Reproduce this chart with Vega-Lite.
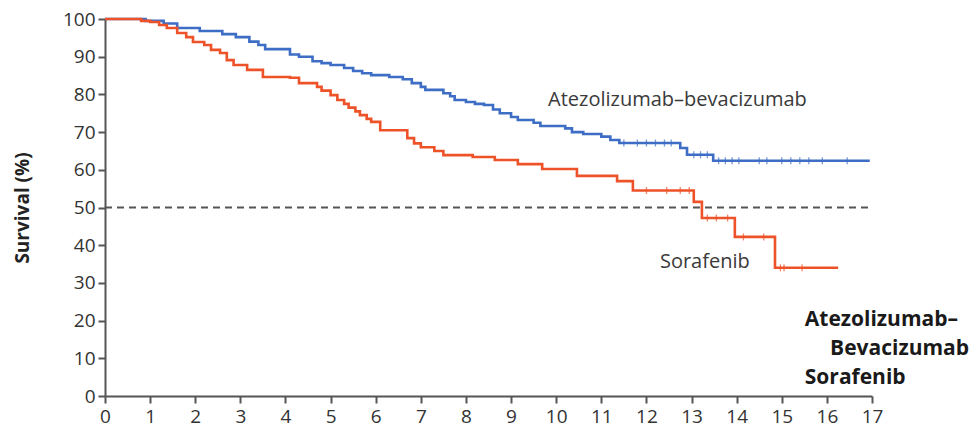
{
  "$schema": "https://vega.github.io/schema/vega-lite/v6.json",
  "width": 767,
  "height": 377,
  "autosize": {"type": "none"},
  "padding": {"left": 105, "top": 19, "right": 97, "bottom": 35},
  "background": "white",
  "config": {
    "view": {"stroke": null},
    "font": "Open Sans",
    "axis": {
      "grid": false,
      "domainColor": "#555555",
      "domainWidth": 2,
      "tickColor": "#555555",
      "tickWidth": 2,
      "tickSize": 7,
      "labelFont": "Open Sans",
      "labelFontSize": 19,
      "labelColor": "#333333",
      "labelOverlap": false,
      "titleFont": "Open Sans",
      "titleColor": "#222222"
    }
  },
  "datasets": {
    "curves": [
      {"arm": "Atezolizumab–bevacizumab", "t": 0, "s": 100},
      {"arm": "Atezolizumab–bevacizumab", "t": 0.9, "s": 99.5},
      {"arm": "Atezolizumab–bevacizumab", "t": 1.3, "s": 98.8},
      {"arm": "Atezolizumab–bevacizumab", "t": 1.6, "s": 97.6},
      {"arm": "Atezolizumab–bevacizumab", "t": 2.1, "s": 96.8},
      {"arm": "Atezolizumab–bevacizumab", "t": 2.6, "s": 96.0},
      {"arm": "Atezolizumab–bevacizumab", "t": 2.9, "s": 95.2},
      {"arm": "Atezolizumab–bevacizumab", "t": 3.2, "s": 94.0},
      {"arm": "Atezolizumab–bevacizumab", "t": 3.4, "s": 93.1},
      {"arm": "Atezolizumab–bevacizumab", "t": 3.55, "s": 92.0},
      {"arm": "Atezolizumab–bevacizumab", "t": 4.1, "s": 90.6},
      {"arm": "Atezolizumab–bevacizumab", "t": 4.3, "s": 90.0},
      {"arm": "Atezolizumab–bevacizumab", "t": 4.6, "s": 88.8},
      {"arm": "Atezolizumab–bevacizumab", "t": 4.8, "s": 88.3},
      {"arm": "Atezolizumab–bevacizumab", "t": 5.0, "s": 87.8},
      {"arm": "Atezolizumab–bevacizumab", "t": 5.3, "s": 87.0},
      {"arm": "Atezolizumab–bevacizumab", "t": 5.5, "s": 86.2},
      {"arm": "Atezolizumab–bevacizumab", "t": 5.7, "s": 85.6},
      {"arm": "Atezolizumab–bevacizumab", "t": 5.9, "s": 85.1},
      {"arm": "Atezolizumab–bevacizumab", "t": 6.3, "s": 84.6},
      {"arm": "Atezolizumab–bevacizumab", "t": 6.6, "s": 84.0},
      {"arm": "Atezolizumab–bevacizumab", "t": 6.8, "s": 83.0},
      {"arm": "Atezolizumab–bevacizumab", "t": 7.0, "s": 82.0},
      {"arm": "Atezolizumab–bevacizumab", "t": 7.1, "s": 81.2},
      {"arm": "Atezolizumab–bevacizumab", "t": 7.5, "s": 80.3},
      {"arm": "Atezolizumab–bevacizumab", "t": 7.65, "s": 79.5},
      {"arm": "Atezolizumab–bevacizumab", "t": 7.75, "s": 78.5},
      {"arm": "Atezolizumab–bevacizumab", "t": 8.0, "s": 78.0},
      {"arm": "Atezolizumab–bevacizumab", "t": 8.2, "s": 77.5},
      {"arm": "Atezolizumab–bevacizumab", "t": 8.4, "s": 77.2},
      {"arm": "Atezolizumab–bevacizumab", "t": 8.6, "s": 76.0},
      {"arm": "Atezolizumab–bevacizumab", "t": 8.75, "s": 75.0},
      {"arm": "Atezolizumab–bevacizumab", "t": 9.0, "s": 74.0},
      {"arm": "Atezolizumab–bevacizumab", "t": 9.15, "s": 73.2},
      {"arm": "Atezolizumab–bevacizumab", "t": 9.5, "s": 72.5},
      {"arm": "Atezolizumab–bevacizumab", "t": 9.65, "s": 71.6},
      {"arm": "Atezolizumab–bevacizumab", "t": 10.2, "s": 71.0},
      {"arm": "Atezolizumab–bevacizumab", "t": 10.35, "s": 70.0},
      {"arm": "Atezolizumab–bevacizumab", "t": 10.6, "s": 69.5},
      {"arm": "Atezolizumab–bevacizumab", "t": 11.0, "s": 68.8},
      {"arm": "Atezolizumab–bevacizumab", "t": 11.2, "s": 67.9},
      {"arm": "Atezolizumab–bevacizumab", "t": 11.4, "s": 67.1},
      {"arm": "Atezolizumab–bevacizumab", "t": 12.75, "s": 65.8},
      {"arm": "Atezolizumab–bevacizumab", "t": 12.9, "s": 64.0},
      {"arm": "Atezolizumab–bevacizumab", "t": 13.48, "s": 62.4},
      {"arm": "Atezolizumab–bevacizumab", "t": 16.95, "s": 62.4},
      {"arm": "Sorafenib", "t": 0, "s": 100},
      {"arm": "Sorafenib", "t": 0.8, "s": 99.5},
      {"arm": "Sorafenib", "t": 1.0, "s": 99.2},
      {"arm": "Sorafenib", "t": 1.2, "s": 98.4},
      {"arm": "Sorafenib", "t": 1.37, "s": 97.6},
      {"arm": "Sorafenib", "t": 1.6, "s": 96.3},
      {"arm": "Sorafenib", "t": 1.8, "s": 95.2},
      {"arm": "Sorafenib", "t": 1.95, "s": 93.9},
      {"arm": "Sorafenib", "t": 2.2, "s": 93.1},
      {"arm": "Sorafenib", "t": 2.35, "s": 91.8},
      {"arm": "Sorafenib", "t": 2.55, "s": 91.0},
      {"arm": "Sorafenib", "t": 2.7, "s": 89.1},
      {"arm": "Sorafenib", "t": 2.85, "s": 87.8},
      {"arm": "Sorafenib", "t": 3.15, "s": 86.5},
      {"arm": "Sorafenib", "t": 3.5, "s": 84.6},
      {"arm": "Sorafenib", "t": 4.1, "s": 84.4},
      {"arm": "Sorafenib", "t": 4.3, "s": 83.0},
      {"arm": "Sorafenib", "t": 4.7, "s": 82.0},
      {"arm": "Sorafenib", "t": 4.8, "s": 81.0},
      {"arm": "Sorafenib", "t": 5.0, "s": 79.8},
      {"arm": "Sorafenib", "t": 5.15, "s": 78.5},
      {"arm": "Sorafenib", "t": 5.3, "s": 77.5},
      {"arm": "Sorafenib", "t": 5.4, "s": 76.5},
      {"arm": "Sorafenib", "t": 5.55, "s": 75.5},
      {"arm": "Sorafenib", "t": 5.65, "s": 74.5},
      {"arm": "Sorafenib", "t": 5.8, "s": 73.5},
      {"arm": "Sorafenib", "t": 5.9, "s": 72.7},
      {"arm": "Sorafenib", "t": 6.1, "s": 70.5},
      {"arm": "Sorafenib", "t": 6.7, "s": 68.4},
      {"arm": "Sorafenib", "t": 6.85, "s": 67.0},
      {"arm": "Sorafenib", "t": 7.0, "s": 66.0},
      {"arm": "Sorafenib", "t": 7.3, "s": 65.0},
      {"arm": "Sorafenib", "t": 7.5, "s": 63.9},
      {"arm": "Sorafenib", "t": 8.15, "s": 63.4},
      {"arm": "Sorafenib", "t": 8.64, "s": 62.6},
      {"arm": "Sorafenib", "t": 9.15, "s": 61.5},
      {"arm": "Sorafenib", "t": 9.69, "s": 60.2},
      {"arm": "Sorafenib", "t": 10.46, "s": 58.4},
      {"arm": "Sorafenib", "t": 11.35, "s": 57.0},
      {"arm": "Sorafenib", "t": 11.7, "s": 54.5},
      {"arm": "Sorafenib", "t": 13.05, "s": 51.5},
      {"arm": "Sorafenib", "t": 13.23, "s": 47.2},
      {"arm": "Sorafenib", "t": 13.96, "s": 42.2},
      {"arm": "Sorafenib", "t": 14.85, "s": 34.0},
      {"arm": "Sorafenib", "t": 16.25, "s": 34.0}
    ],
    "censors": [
      {"arm": "Atezolizumab–bevacizumab", "t": 11.5, "s": 67.1},
      {"arm": "Atezolizumab–bevacizumab", "t": 11.8, "s": 67.1},
      {"arm": "Atezolizumab–bevacizumab", "t": 12.0, "s": 67.1},
      {"arm": "Atezolizumab–bevacizumab", "t": 12.2, "s": 67.1},
      {"arm": "Atezolizumab–bevacizumab", "t": 12.4, "s": 67.1},
      {"arm": "Atezolizumab–bevacizumab", "t": 12.55, "s": 67.1},
      {"arm": "Atezolizumab–bevacizumab", "t": 13.05, "s": 64.0},
      {"arm": "Atezolizumab–bevacizumab", "t": 13.2, "s": 64.0},
      {"arm": "Atezolizumab–bevacizumab", "t": 13.35, "s": 64.0},
      {"arm": "Atezolizumab–bevacizumab", "t": 13.6, "s": 62.4},
      {"arm": "Atezolizumab–bevacizumab", "t": 13.75, "s": 62.4},
      {"arm": "Atezolizumab–bevacizumab", "t": 13.9, "s": 62.4},
      {"arm": "Atezolizumab–bevacizumab", "t": 14.05, "s": 62.4},
      {"arm": "Atezolizumab–bevacizumab", "t": 14.5, "s": 62.4},
      {"arm": "Atezolizumab–bevacizumab", "t": 14.67, "s": 62.4},
      {"arm": "Atezolizumab–bevacizumab", "t": 15.0, "s": 62.4},
      {"arm": "Atezolizumab–bevacizumab", "t": 15.2, "s": 62.4},
      {"arm": "Atezolizumab–bevacizumab", "t": 15.4, "s": 62.4},
      {"arm": "Atezolizumab–bevacizumab", "t": 15.6, "s": 62.4},
      {"arm": "Atezolizumab–bevacizumab", "t": 15.9, "s": 62.4},
      {"arm": "Atezolizumab–bevacizumab", "t": 16.45, "s": 62.4},
      {"arm": "Sorafenib", "t": 12.0, "s": 54.5},
      {"arm": "Sorafenib", "t": 12.45, "s": 54.5},
      {"arm": "Sorafenib", "t": 12.75, "s": 54.5},
      {"arm": "Sorafenib", "t": 12.95, "s": 54.5},
      {"arm": "Sorafenib", "t": 13.35, "s": 47.2},
      {"arm": "Sorafenib", "t": 13.55, "s": 47.2},
      {"arm": "Sorafenib", "t": 13.8, "s": 47.2},
      {"arm": "Sorafenib", "t": 14.15, "s": 42.2},
      {"arm": "Sorafenib", "t": 14.6, "s": 42.2},
      {"arm": "Sorafenib", "t": 14.97, "s": 34.0},
      {"arm": "Sorafenib", "t": 15.05, "s": 34.0},
      {"arm": "Sorafenib", "t": 15.45, "s": 34.0}
    ],
    "curveLabels": [
      {"label": "Atezolizumab–bevacizumab", "t": 9.82, "s": 78.5},
      {"label": "Sorafenib", "t": 12.3, "s": 35.5}
    ],
    "riskLabels": [
      {"label": "Atezolizumab–", "t": 15.51, "s": 20.2},
      {"label": "Bevacizumab", "t": 16.07, "s": 12.5},
      {"label": "Sorafenib", "t": 15.51, "s": 4.8}
    ],
    "median": [
      {"t": 0, "s": 50},
      {"t": 17, "s": 50}
    ]
  },
  "encoding": {
    "x": {
      "field": "t", "type": "quantitative",
      "scale": {"domain": [0, 17], "nice": false},
      "axis": {"values": [0,1,2,3,4,5,6,7,8,9,10,11,12,13,14,15,16,17], "title": null, "labelPadding": 4, "labelFlush": false}
    },
    "y": {
      "field": "s", "type": "quantitative",
      "scale": {"domain": [0, 100], "nice": false},
      "axis": {
        "values": [0,10,20,30,40,50,60,70,80,90,100],
        "title": "Survival (%)",
        "titleFontSize": 19,
        "titleFontWeight": "bold",
        "titlePadding": 30,
        "labelPadding": 3,
        "labelFlush": false
      }
    }
  },
  "layer": [
    {
      "data": {"name": "median"},
      "mark": {"type": "line", "color": "#555555", "strokeWidth": 1.8, "strokeDash": [7, 5]}
    },
    {
      "data": {"name": "curves"},
      "mark": {"type": "line", "interpolate": "step-after", "strokeWidth": 2.6},
      "encoding": {
        "color": {
          "field": "arm", "type": "nominal",
          "scale": {"domain": ["Atezolizumab–bevacizumab", "Sorafenib"], "range": ["#3d6dc4", "#ee5228"]},
          "legend": null
        }
      }
    },
    {
      "data": {"name": "censors"},
      "mark": {"type": "tick", "orient": "vertical", "size": 7, "thickness": 1.3},
      "encoding": {
        "color": {"field": "arm", "type": "nominal", "legend": null}
      }
    },
    {
      "data": {"name": "curveLabels"},
      "mark": {"type": "text", "align": "left", "baseline": "middle", "fontSize": 20, "color": "#3a3a3a", "font": "Open Sans"},
      "encoding": {
        "text": {"field": "label"}
      }
    },
    {
      "data": {"name": "riskLabels"},
      "mark": {"type": "text", "align": "left", "baseline": "middle", "fontSize": 21, "fontWeight": "bold", "color": "#1a1a1a", "font": "Open Sans"},
      "encoding": {
        "text": {"field": "label"}
      }
    }
  ]
}
